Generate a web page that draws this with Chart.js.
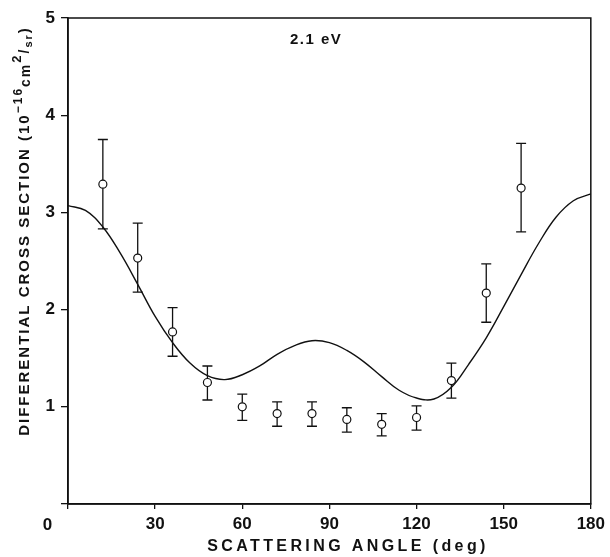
<!DOCTYPE html>
<html>
<head>
<meta charset="utf-8">
<script src="https://cdn.jsdelivr.net/npm/chart.js@4/dist/chart.umd.min.js"></script>
<style>
  html, body { margin: 0; padding: 0; background: #fff; }
  #wrap { width: 610px; height: 557px; }
</style>
</head>
<body>
<div id="wrap"><canvas id="chart"></canvas></div>
<script>
// measured points (angle in deg, cross section in 1e-16 cm2/sr)
const angles = [12, 24, 36, 48, 60, 72, 84, 96, 108, 120, 132, 144, 156];
const measured = [3.29, 2.53, 1.77, 1.25, 1.00, 0.93, 0.93, 0.87, 0.82, 0.89, 1.27, 2.17, 3.25];
const errLow = [2.83, 2.18, 1.52, 1.07, 0.86, 0.80, 0.80, 0.74, 0.70, 0.76, 1.09, 1.87, 2.80];
const errHigh = [3.75, 2.89, 2.02, 1.42, 1.13, 1.05, 1.05, 0.99, 0.93, 1.01, 1.45, 2.47, 3.71];

// theory curve
const curveAngles = [0, 6, 12, 18, 24, 30, 36, 42, 48, 54, 60, 66, 72, 78, 84, 90,
  96, 102, 108, 114, 120, 126, 132, 138, 144, 150, 156, 162, 168, 174, 180];
const curveValues = [3.07, 3.02, 2.85, 2.58, 2.26, 1.93, 1.66, 1.45, 1.32, 1.28, 1.33, 1.42,
  1.54, 1.63, 1.68, 1.66, 1.58, 1.46, 1.31, 1.17, 1.09, 1.08, 1.20, 1.44, 1.71, 2.03, 2.36,
  2.68, 2.95, 3.12, 3.19];

const xTicks = [0, 30, 60, 90, 120, 150, 180];
const yTicks = [0, 1, 2, 3, 4, 5];
const energyLabel = '2.1 eV';
const xTitle = 'SCATTERING ANGLE (deg)';

const FONT = '"Liberation Sans", Arial, sans-serif';
const INK = '#111';

// error bars, frame and the text chart.js can't space out
const extras = {
    id: 'extras',
    afterDatasetsDraw(chart) {
        const { ctx, chartArea, scales } = chart;
        const x = scales.x, y = scales.y;
        ctx.save();
        ctx.strokeStyle = INK;
        ctx.lineWidth = 1.3;
        angles.forEach((a, i) => {
            const px = x.getPixelForValue(a);
            const top = y.getPixelForValue(errHigh[i]);
            const bot = y.getPixelForValue(errLow[i]);
            const pt = y.getPixelForValue(measured[i]);
            ctx.beginPath();
            ctx.moveTo(px, top); ctx.lineTo(px, pt - 4);
            ctx.moveTo(px, pt + 4); ctx.lineTo(px, bot);
            ctx.moveTo(px - 5, top); ctx.lineTo(px + 5, top);
            ctx.moveTo(px - 5, bot); ctx.lineTo(px + 5, bot);
            ctx.stroke();
        });
        // box frame
        ctx.lineWidth = 1.5;
        ctx.strokeRect(chartArea.left, chartArea.top, chartArea.right - chartArea.left, chartArea.bottom - chartArea.top);

        ctx.fillStyle = INK;
        ctx.font = 'bold 15px ' + FONT;
        ctx.letterSpacing = '1.5px';
        ctx.textAlign = 'left';
        ctx.textBaseline = 'alphabetic';
        ctx.fillText(energyLabel, 290, 44);

        // origin label sits left of the axis
        ctx.font = 'bold 17px ' + FONT;
        ctx.letterSpacing = '1px';
        ctx.textAlign = 'center';
        ctx.textBaseline = 'middle';
        ctx.fillText('0', chartArea.left - 20, chartArea.bottom + 21);

        // x title
        ctx.font = 'bold 16px ' + FONT;
        ctx.letterSpacing = '3.4px';
        ctx.fillText(xTitle, 348, 547);

        // y title with super/subscripts
        const parts = [
            { t: 'DIFFERENTIAL CROSS SECTION (10', s: 15, dy: 0 },
            { t: '\u221216', s: 12, dy: -7 },
            { t: 'cm', s: 14, dy: 1 },
            { t: '2', s: 13, dy: -8 },
            { t: '/', s: 14, dy: 0 },
            { t: 'sr', s: 11, dy: 3 },
            { t: ')', s: 15, dy: 0 }
        ];
        ctx.letterSpacing = '2px';
        let total = 0;
        parts.forEach(p => { ctx.font = 'bold ' + p.s + 'px ' + FONT; p.w = ctx.measureText(p.t).width; total += p.w; });
        ctx.translate(29, 231);
        ctx.rotate(-Math.PI / 2);
        ctx.textAlign = 'left';
        ctx.textBaseline = 'alphabetic';
        let cx = -total / 2;
        parts.forEach(p => {
            ctx.font = 'bold ' + p.s + 'px ' + FONT;
            ctx.fillText(p.t, cx, p.dy);
            cx += p.w;
        });
        ctx.restore();
    }
};

new Chart(document.getElementById('chart'), {
    type: 'line',
    data: {
        datasets: [
            {
                label: 'theory',
                data: curveAngles.map((a, i) => ({ x: a, y: curveValues[i] })),
                borderColor: INK,
                borderWidth: 1.4,
                pointRadius: 0,
                tension: 0.4,
                fill: false
            },
            {
                label: 'measured',
                data: angles.map((a, i) => ({ x: a, y: measured[i] })),
                showLine: false,
                pointStyle: 'circle',
                pointRadius: 4,
                pointBorderWidth: 1.2,
                pointBorderColor: INK,
                pointBackgroundColor: 'rgba(0,0,0,0)'
            }
        ]
    },
    options: {
        responsive: true,
        maintainAspectRatio: false,
        animation: false,
        layout: { padding: { top: 18, right: 18, left: 0, bottom: 0 } },
        plugins: {
            legend: { display: false },
            tooltip: { enabled: false }
        },
        scales: {
            x: {
                type: 'linear',
                min: 0,
                max: 180,
                afterBuildTicks: s => { s.ticks = xTicks.map(v => ({ value: v })); },
                afterFit: s => { s.height = 53; },
                grid: { drawOnChartArea: false, tickLength: 5, color: INK, lineWidth: 1.3 },
                border: { color: INK, width: 1.5 },
                ticks: {
                    color: INK,
                    font: { family: FONT, size: 17, weight: 'bold' },
                    padding: 5,
                    maxRotation: 0,
                    callback: v => (v === 0 ? '' : v)
                },
                title: { display: false }
            },
            y: {
                min: 0,
                max: 5,
                afterBuildTicks: s => { s.ticks = yTicks.map(v => ({ value: v })); },
                afterFit: s => { s.width = 68; },
                grid: { drawOnChartArea: false, tickLength: 7, color: INK, lineWidth: 1.3 },
                border: { color: INK, width: 1.5 },
                ticks: {
                    color: INK,
                    font: { family: FONT, size: 17, weight: 'bold' },
                    padding: 6,
                    callback: v => (v === 0 ? '' : v)
                }
            }
        }
    },
    plugins: [extras]
});
</script>
</body>
</html>
